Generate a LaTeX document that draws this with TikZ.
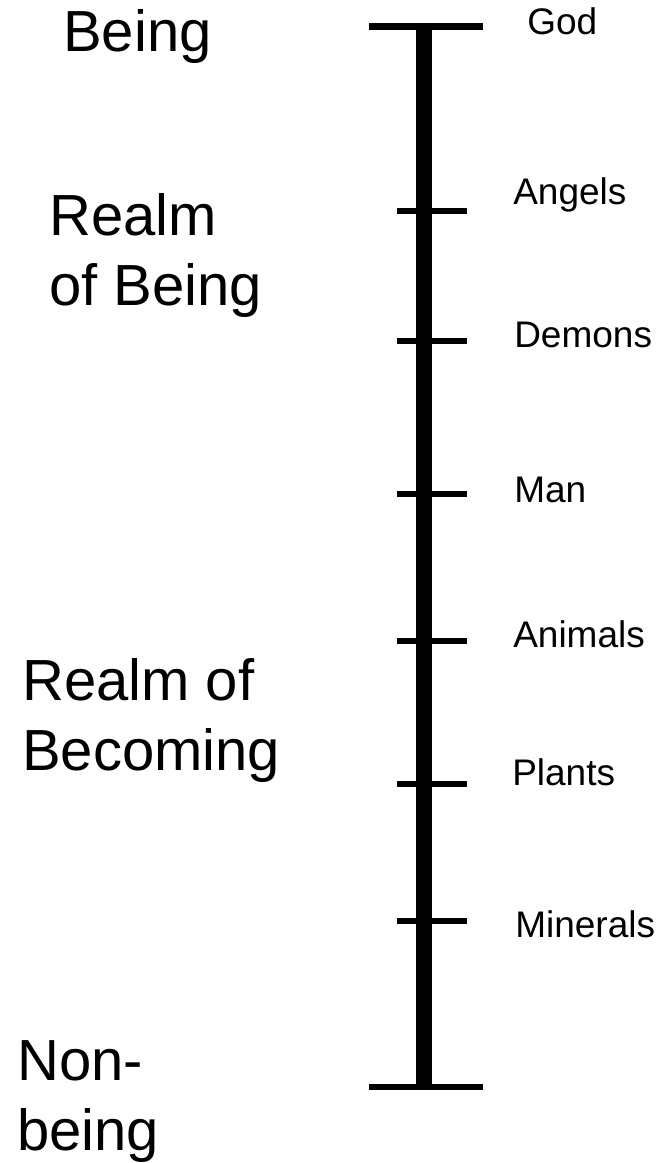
\documentclass[tikz,border=0pt]{standalone}
\usepackage{fontspec}
\setmainfont{Liberation Sans}
\tikzset{
  level/.style={font=\fontsize{27.75}{33}\selectfont, anchor=base west, inner sep=0pt},
  realm/.style={font=\fontsize{43.5}{52.5}\selectfont, anchor=base west, inner sep=0pt, align=left},
  spine/.style={line width=12pt, line cap=butt},
  rung/.style={line width=5pt, line cap=butt}
}
\begin{document}
\begin{tikzpicture}[x=0.75pt, y=-0.75pt]
\useasboundingbox (0,0) rectangle (664,1163);
% Ends of the scale
\coordinate (top) at (424,26.5);
\coordinate (bottom) at (424,1087);
% Draw the main vertical bar
\draw[spine] (top) -- (bottom);
% Draw the long bars at both ends
\draw[rung] (369,26.5) -- (483,26.5);
\draw[rung] (369,1087) -- (483,1087);
% Draw the short bars for each level
\draw[rung] (397,211) -- (467,211);
\draw[rung] (397,341) -- (467,341);
\draw[rung] (397,494) -- (467,494);
\draw[rung] (397,641) -- (467,641);
\draw[rung] (397,784) -- (467,784);
\draw[rung] (397,921) -- (467,921);
% Labels of the levels
\node[level] (god) at (527,35) {God};
\node[level] (angels) at (513,204) {Angels};
\node[level] (demons) at (514,347) {Demons};
\node[level] (man) at (514,502) {Man};
\node[level] (animals) at (513,647) {Animals};
\node[level] (plants) at (512,785) {Plants};
\node[level] (minerals) at (515,937) {Minerals};
% Labels of the realms on the left (base is the last line)
\node[realm] (being) at (63,52) {Being};
\node[realm] (realmbeing) at (49,305) {Realm\\of Being};
\node[realm] (realmbecoming) at (22,770) {Realm of\\Becoming};
\node[realm] (nonbeing) at (17,1150) {Non-\\being};
\end{tikzpicture}
\end{document}
